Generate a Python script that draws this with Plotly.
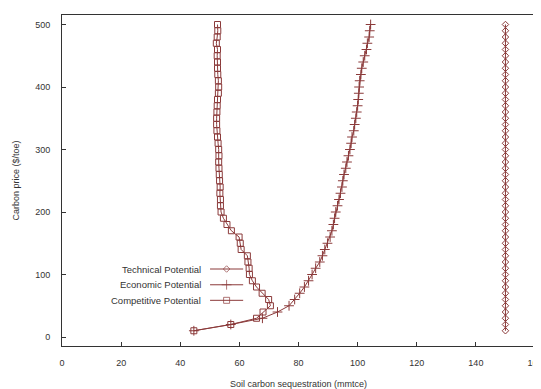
import plotly.graph_objects as go

prices = list(range(10, 510, 10))

technical_x = [150] * 50

economic_x = [44.6, 57.1, 67.8, 72.9, 76.8, 78.7, 80.4, 82.0, 83.4, 84.6,
              85.8, 87.2, 88.1, 88.9, 89.8, 90.7, 91.3, 91.8, 92.2, 92.6,
              93.2, 93.7, 94.2, 94.7, 95.0, 95.4, 96.0, 96.4, 96.9, 97.4,
              97.8, 98.1, 98.7, 99.0, 99.4, 99.7, 100.0, 100.2, 100.4, 100.5,
              100.7, 101.1, 101.4, 101.9, 102.4, 103.0, 103.3, 103.9, 104.1, 104.4]

competitive_x = [44.6, 57.1, 65.8, 68.0, 70.5, 69.9, 67.7, 65.8, 64.4, 63.4,
                 63.3, 62.9, 62.7, 60.6, 60.3, 59.9, 57.3, 55.8, 54.6, 53.8,
                 53.6, 53.6, 53.4, 53.5, 53.3, 53.2, 53.1, 53.0, 53.1, 53.0,
                 52.8, 52.6, 52.4, 52.3, 52.3, 52.4, 52.5, 52.6, 52.9, 53.0,
                 52.9, 52.7, 52.6, 52.6, 52.5, 52.6, 52.2, 52.5, 52.7, 52.6]

series_names = ["Technical Potential", "Economic Potential", "Competitive Potential"]
series_symbols = ["diamond-open", "cross-thin-open", "square-open"]
series_sizes = [5, 7, 6]
x_ticks = [0, 20, 40, 60, 80, 100, 120, 140, 160]
y_ticks = [0, 100, 200, 300, 400, 500]
x_title = "Soil carbon sequestration (mmtce)"
y_title = "Carbon price ($/toe)"

COLOR = "#8b3a3a"
FONT = "Liberation Sans, Arial, sans-serif"
TXT = "#333333"

fig = go.Figure()
for name, xs, sym, sz in zip(series_names, [technical_x, economic_x, competitive_x],
                             series_symbols, series_sizes):
    fig.add_trace(go.Scatter(
        x=xs, y=prices, name=name, mode="lines+markers",
        line=dict(color=COLOR, width=1),
        marker=dict(symbol=sym, size=sz, color=COLOR, line=dict(color=COLOR, width=1)),
        showlegend=False, cliponaxis=False,
    ))

# custom gnuplot-style legend (text left of sample)
leg_y = [0.2326, 0.185, 0.138]
for name, sym, sz, yy in zip(series_names, series_symbols, series_sizes, leg_y):
    fig.add_trace(go.Scatter(
        x=[0.313, 0.348, 0.383], y=[yy, yy, yy], xaxis="x2", yaxis="y2",
        mode="lines+markers", line=dict(color=COLOR, width=1),
        marker=dict(symbol=sym, size=[0, sz, 0], color=COLOR,
                    line=dict(color=COLOR, width=1)),
        showlegend=False, hoverinfo="skip",
    ))
    fig.add_annotation(x=0.298, y=yy, xref="paper", yref="paper", text=name,
                       showarrow=False, xanchor="right", yanchor="middle",
                       font=dict(family=FONT, size=9.5, color=TXT))

# x-axis title placed low, as in the reference
fig.add_annotation(x=0.5, y=-0.115, xref="paper", yref="paper", text=x_title,
                   showarrow=False, xanchor="center", yanchor="middle",
                   font=dict(family=FONT, size=9, color=TXT))

# page body has an 8px margin; size figure so it fits the 541x389 window
fig.update_layout(
    width=533, height=381,
    margin=dict(l=54, r=6, t=7, b=43, autoexpand=False),
    paper_bgcolor="white", plot_bgcolor="white",
    font=dict(family=FONT, size=9, color=TXT),
    xaxis=dict(range=[0, 160], tickvals=x_ticks, ticks="inside", ticklen=4,
               tickcolor="#333", showgrid=False, zeroline=False,
               showline=True, linecolor="#333", linewidth=1, mirror=True,
               ticklabelstandoff=8, automargin=False, ticklabeloverflow="allow"),
    yaxis=dict(range=[-14.4, 515.2], tickvals=y_ticks, ticks="inside", ticklen=4,
               tickcolor="#333", showgrid=False, zeroline=False,
               showline=True, linecolor="#333", linewidth=1, mirror=True,
               ticklabelstandoff=9, automargin=False,
               title=dict(text=y_title, standoff=14, font=dict(size=9))),
    xaxis2=dict(range=[0, 1], overlaying="x", visible=False, fixedrange=True),
    yaxis2=dict(range=[0, 1], overlaying="y", visible=False, fixedrange=True),
)

fig.write_html("out.html")
